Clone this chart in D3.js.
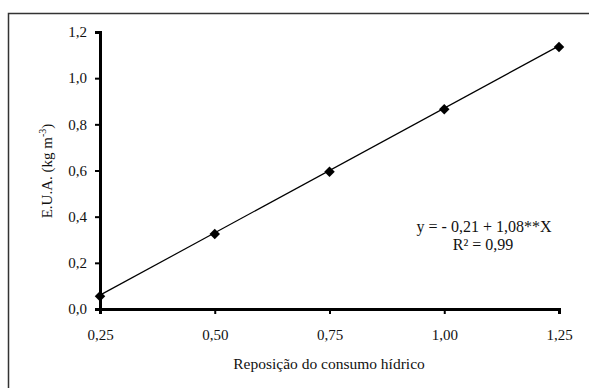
<!DOCTYPE html>
<html>
<head>
<meta charset="utf-8">
<script src="https://cdn.jsdelivr.net/npm/d3@7"></script>
<style>
  html, body { margin: 0; padding: 0; background: #fff; }
  svg { display: block; }
  text { font-family: "Liberation Serif", "Times New Roman", serif; fill: #111; }
</style>
</head>
<body>
<script>
// Water use efficiency vs. water-consumption replacement level
const reposicao = [0.25, 0.50, 0.75, 1.00, 1.25];
const eua = [0.055, 0.325, 0.595, 0.865, 1.135];
const xTicks = [0.25, 0.50, 0.75, 1.00, 1.25];
const yTicks = [0.0, 0.2, 0.4, 0.6, 0.8, 1.0, 1.2];
const intercept = -0.21;
const slope = 1.08;

const W = 589, H = 388;
const margin = { left: 100, right: 30, top: 32, bottom: 79 };

const svg = d3.select("body").append("svg")
  .attr("width", W).attr("height", H);

// outer frame
svg.append("rect")
  .attr("x", 8.5).attr("y", 13.5)
  .attr("width", 620).attr("height", 420)
  .attr("fill", "none").attr("stroke", "#333").attr("stroke-width", 1.5);

const x = d3.scaleLinear().domain([0.25, 1.25]).range([margin.left, W - margin.right]);
const y = d3.scaleLinear().domain([0, 1.2]).range([H - margin.bottom, margin.top]);

const fmt = (d, n) => d.toFixed(n).replace(".", ",");

// x axis
const gx = svg.append("g")
  .attr("transform", `translate(0,${y(0)})`)
  .call(d3.axisBottom(x).tickValues(xTicks).tickSize(5).tickPadding(15).tickFormat(d => fmt(d, 2)));
// y axis
const gy = svg.append("g")
  .attr("transform", `translate(${x(0.25)},0)`)
  .call(d3.axisLeft(y).tickValues(yTicks).tickSize(5).tickPadding(8).tickFormat(d => fmt(d, 1)));

[gx, gy].forEach(g => {
  g.attr("font-family", "Liberation Serif").attr("font-size", 15);
  g.select(".domain").attr("stroke", "#000").attr("stroke-width", 3);
  g.selectAll(".tick line").attr("stroke", "#000").attr("stroke-width", 2);
  g.selectAll(".tick text").attr("fill", "#111");
});

// fitted regression line
const xr = [0.25, 1.25];
svg.append("line")
  .attr("x1", x(xr[0])).attr("y1", y(intercept + slope * xr[0]))
  .attr("x2", x(xr[1])).attr("y2", y(intercept + slope * xr[1]))
  .attr("stroke", "#000").attr("stroke-width", 1.2);

// observed means
svg.selectAll("path.pt")
  .data(reposicao.map((r, i) => [r, eua[i]]))
  .join("path")
  .attr("class", "pt")
  .attr("transform", d => `translate(${x(d[0])},${y(d[1])})`)
  .attr("d", d3.symbol(d3.symbolDiamond2, 70)())
  .attr("fill", "#000");

// axis titles
svg.append("text")
  .attr("x", 329).attr("y", 369)
  .attr("text-anchor", "middle").attr("font-size", 15.5)
  .text("Reposição do consumo hídrico");

const yl = svg.append("text")
  .attr("transform", "translate(52,171) rotate(-90)")
  .attr("text-anchor", "middle").attr("font-size", 15);
yl.append("tspan").text("E.U.A.  (kg m");
yl.append("tspan").attr("font-size", 10).attr("dy", -6).text("-3");
yl.append("tspan").attr("dy", 6).text(")");

// regression equation
svg.append("text")
  .attr("x", 484).attr("y", 232)
  .attr("text-anchor", "middle").attr("font-size", 16)
  .text("y = - 0,21 + 1,08**X");
svg.append("text")
  .attr("x", 483).attr("y", 250)
  .attr("text-anchor", "middle").attr("font-size", 16)
  .text("R² = 0,99");
</script>
</body>
</html>
